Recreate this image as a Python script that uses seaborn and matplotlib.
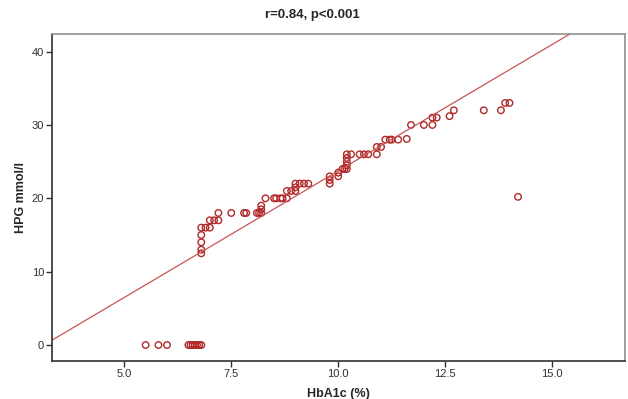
import numpy as np
import pandas as pd
import matplotlib.pyplot as plt
import seaborn as sns

# Values
hba1c = [5.5, 5.8, 6.0, 6.5, 6.55, 6.6, 6.65, 6.7, 6.75, 6.8,
         6.8, 6.8, 6.8, 6.8, 6.8, 6.9, 7.0,
         7.0, 7.1, 7.2, 7.2, 7.5, 7.8, 7.85, 8.1, 8.15, 8.2, 8.2, 8.2,
         8.3, 8.5, 8.55, 8.65, 8.7, 8.8, 8.8, 8.9, 9.0, 9.0,
         9.0, 9.1, 9.2, 9.3, 9.8, 9.8, 9.8, 10.0, 10.0,
         10.1, 10.15, 10.2, 10.2, 10.2, 10.2, 10.2, 10.3, 10.5, 10.6, 10.7, 10.9,
         10.9, 11.0, 11.1, 11.2, 11.25, 11.4, 11.6,
         11.7, 12.0, 12.2, 12.2, 12.3, 12.6, 12.7, 13.4, 13.8, 13.9, 14.0, 14.2]
hpg = [0, 0, 0, 0, 0, 0, 0, 0, 0, 0,
       12.5, 13, 14, 15, 16, 16, 16,
       17, 17, 17, 18, 18, 18, 18, 18, 18, 18, 18.5, 19,
       20, 20, 20, 20, 20, 20, 21, 21, 21, 21.5,
       22, 22, 22, 22, 22, 22.5, 23, 23, 23.5,
       24, 24, 24, 24.5, 25, 25.5, 26, 26, 26, 26, 26, 26,
       27, 27, 28, 28, 28, 28, 28.1,
       30, 30, 30, 31, 31, 31.2, 32, 32, 32, 33, 33, 20.2]

# Fit line as drawn in the reference (SPSS total fit line)
fit_slope = 3.45
fit_intercept = -10.77

df = pd.DataFrame({"HbA1c": hba1c, "HPG": hpg})

sns.set_style("white")
plt.rcParams["font.family"] = ["Liberation Sans", "DejaVu Sans"]

fig = plt.figure(figsize=(6.28, 3.99), dpi=100)
ax = fig.add_axes([0.0833, 0.0952, 0.9120, 0.8196])

sns.scatterplot(data=df, x="HbA1c", y="HPG", ax=ax, marker="o", s=22,
                facecolor="none", edgecolor="#b02828", linewidth=1.0)
ax.axline((0, fit_intercept), slope=fit_slope, color="#c85454", linewidth=0.9)

ax.set_xlim(3.32, 16.7)
ax.set_ylim(-2.18, 42.4)
ax.set_xticks([5.0, 7.5, 10.0, 12.5, 15.0])
ax.set_xticklabels(["5.0", "7.5", "10.0", "12.5", "15.0"])
ax.set_yticks([0, 10, 20, 30, 40])

ax.spines["left"].set_color("#303030")
ax.spines["bottom"].set_color("#303030")
ax.spines["top"].set_color("#909090")
ax.spines["right"].set_color("#909090")
for sp in ax.spines.values():
    sp.set_linewidth(1.2)
ax.tick_params(direction="out", length=4, width=1, color="#303030", pad=2,
               labelsize=8, labelcolor="#303030", bottom=True, left=True)

ax.set_xlabel("HbA1c (%)", fontsize=9, fontweight="bold", labelpad=6)
ax.set_ylabel("HPG mmol/l", fontsize=9, fontweight="bold", labelpad=3)
fig.text(0.497, 0.963, "r=0.84, p<0.001", ha="center", va="center",
         fontsize=9.5, fontweight="bold")

fig.savefig("out.png", dpi=100)
